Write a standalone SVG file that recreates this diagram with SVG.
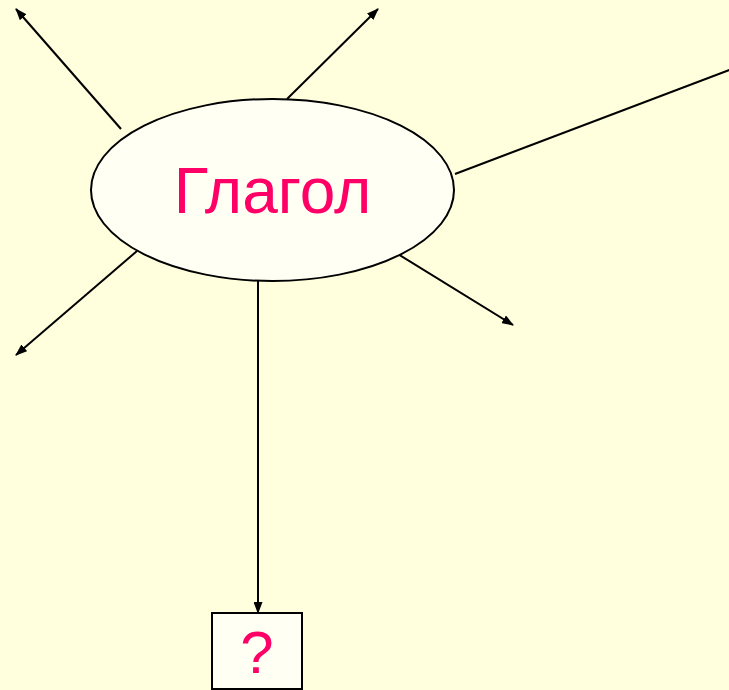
<svg xmlns="http://www.w3.org/2000/svg" width="729" height="690" viewBox="0 0 729 690">
<style>
.ln{stroke:#000;stroke-width:2;fill:none}
.lbl{font-family:"Liberation Sans",Arial,sans-serif;fill:#FF0066;text-anchor:middle}
</style>
<defs>
<marker id="ah" markerWidth="12" markerHeight="9" refX="11" refY="4.5" orient="auto" markerUnits="userSpaceOnUse">
<path d="M0,0 L12,4.5 L0,9 Z" fill="#000"/>
</marker>
</defs>
<rect width="729" height="690" fill="#FFFFDD"/>
<g id="connectors">
<line class="ln" x1="121" y1="129" x2="16" y2="9" marker-end="url(#ah)"/>
<line class="ln" x1="287" y1="99" x2="378" y2="9" marker-end="url(#ah)"/>
<line class="ln" x1="455" y1="174" x2="732" y2="69"/>
<line class="ln" x1="137" y1="251" x2="16" y2="355" marker-end="url(#ah)"/>
<line class="ln" x1="393" y1="251" x2="513" y2="325" marker-end="url(#ah)"/>
<line class="ln" x1="258" y1="281" x2="258" y2="613" marker-end="url(#ah)"/>
</g>
<g id="verb">
<ellipse cx="272.5" cy="190" rx="181.5" ry="91" fill="#FFFFF4" stroke="#000" stroke-width="2"/>
<text class="lbl" x="272.5" y="213" font-size="64">Глагол</text>
</g>
<g id="question">
<rect x="212" y="613" width="90" height="76" fill="#FFFFF4" stroke="#000" stroke-width="2"/>
<text class="lbl" x="257" y="673" font-size="60">?</text>
</g>
</svg>
